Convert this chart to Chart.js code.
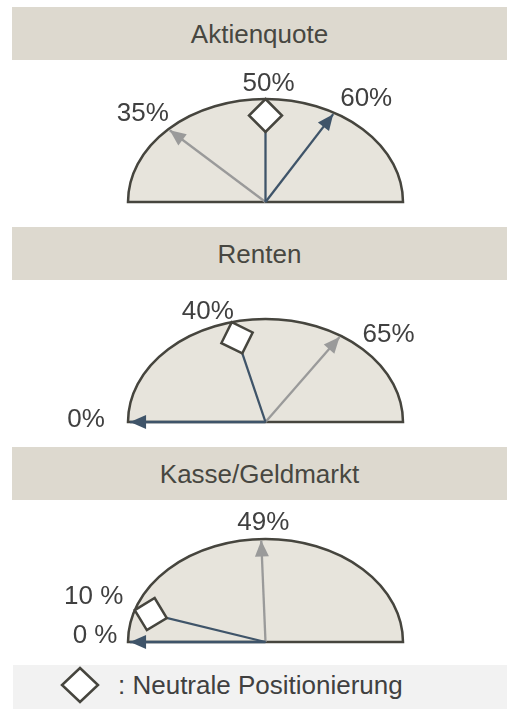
<!DOCTYPE html>
<html>
<head>
<meta charset="utf-8">
<title>Positionierung</title>
<script src="https://cdn.jsdelivr.net/npm/chart.js@4.4.1/dist/chart.umd.min.js"></script>
<style>
  body { margin: 0; padding-top: 7px; width: 507px; height: 702px; background: #fff;
         font-family: "Liberation Sans", Arial, sans-serif; overflow: hidden; position: relative; }
  .head { margin-left: 12px; height: 53px; line-height: 54px; background: #DDD9CF;
          color: #474741; font-size: 26px; text-align: center; }
  canvas { display: block; }
  #legend { position: absolute; left: 13px; right: 0; top: 665px; bottom: -7px; background: #F2F2F2;
            color: #404040; font-size: 26px; }
  #legend svg { position: absolute; left: 47px; top: 1px; }
  #legend span { position: absolute; left: 105px; top: 5px; line-height: 30px; }
</style>
</head>
<body>
<div id="panels"></div>
<div id="legend">
  <svg width="40" height="38"><polygon points="20,2 38,19 20,36 2,19" fill="#fff" stroke="#46453E" stroke-width="2.5"/></svg>
  <span id="legendText"></span>
</div>
<script>
// gauge values (percent)
const panelTitles = ['Aktienquote', 'Renten', 'Kasse/Geldmarkt'];
const gaugeMin = [20, 0, 0];
const gaugeMax = [80, 95, 100];
const neutralValues = [50, 40, 10];   // diamond
const currentValues = [60, 0, 0];     // dark arrow
const previousValues = [35, 65, 49];  // grey arrow
const neutralLabels = ['50%', '40%', '10 %'];
const currentLabels = ['60%', '0%', '0 %'];
const previousLabels = ['35%', '65%', '49%'];
const legendText = ': Neutrale Positionierung';

// where each label sits relative to the tip of its mark (px)
const labelOffsets = [
  { neutral: [3, -17], current: [33, -17], previous: [-27, -19] },
  { neutral: [-24, -12], current: [-44, -4], previous: [49, -4] },
  { neutral: [-41, -15], current: [-35, -8], previous: [2, -20] }
];

const DARK = '#3F5469';
const GREY = '#9A9A9A';
const OUTLINE = '#46453E';
const FILL = '#E7E4DC';
const TIP_R = 0.985;

// value -> point on the unit half circle (x/y scales stretch it to the ellipse)
function gaugePoint(value, i, r) {
  const frac = (value - gaugeMin[i]) / (gaugeMax[i] - gaugeMin[i]);
  const a = Math.PI * (1 - frac);
  return { x: r * Math.cos(a), y: r * Math.sin(a) };
}

const gaugePlugin = {
  id: 'gauge',
  beforeDatasetsDraw(chart) {
    const { ctx, scales: { x, y } } = chart;
    const cx = x.getPixelForValue(0), cy = y.getPixelForValue(0);
    const rx = x.getPixelForValue(1) - cx, ry = cy - y.getPixelForValue(1);
    ctx.save();
    ctx.beginPath();
    ctx.ellipse(cx, cy, rx, ry, 0, Math.PI, 2 * Math.PI);
    ctx.closePath();
    ctx.fillStyle = FILL;
    ctx.fill();
    ctx.lineWidth = 2.5;
    ctx.strokeStyle = OUTLINE;
    ctx.stroke();
    ctx.restore();
  },
  afterDatasetsDraw(chart) {
    const ctx = chart.ctx;
    ctx.save();
    chart.data.datasets.forEach((ds, di) => {
      const pts = chart.getDatasetMeta(di).data;
      const o = pts[0], t = pts[1];
      let ux = t.x - o.x, uy = t.y - o.y;
      const len = Math.hypot(ux, uy);
      ux /= len; uy /= len;
      const nx = -uy, ny = ux;
      ctx.beginPath();
      if (ds.mark === 'arrow') {
        const L = 16, W = 7;
        ctx.moveTo(t.x, t.y);
        ctx.lineTo(t.x - ux * L + nx * W, t.y - uy * L + ny * W);
        ctx.lineTo(t.x - ux * L - nx * W, t.y - uy * L - ny * W);
        ctx.closePath();
        ctx.fillStyle = ds.borderColor;
        ctx.fill();
      } else {
        const h = 16.5;
        ctx.moveTo(t.x, t.y);
        ctx.lineTo(t.x - ux * h + nx * h, t.y - uy * h + ny * h);
        ctx.lineTo(t.x - ux * 2 * h, t.y - uy * 2 * h);
        ctx.lineTo(t.x - ux * h - nx * h, t.y - uy * h - ny * h);
        ctx.closePath();
        ctx.fillStyle = '#fff';
        ctx.fill();
        ctx.lineWidth = 2.5;
        ctx.lineJoin = 'miter';
        ctx.strokeStyle = OUTLINE;
        ctx.stroke();
      }
      // value label
      ctx.font = '26px "Liberation Sans", Arial, sans-serif';
      ctx.fillStyle = '#404040';
      ctx.textAlign = 'center';
      ctx.textBaseline = 'alphabetic';
      ctx.fillText(ds.tipLabel, t.x + ds.offset[0], t.y + ds.offset[1] + 9.3);
    });
    ctx.restore();
  }
};

const lineStyle = { showLine: true, pointRadius: 0, borderWidth: 2.3, clip: false, fill: false };

const holder = document.getElementById('panels');
panelTitles.forEach((title, i) => {
  const head = document.createElement('div');
  head.className = 'head';
  head.textContent = title;
  const canvas = document.createElement('canvas');
  canvas.width = 507;
  canvas.height = 167;
  holder.appendChild(head);
  holder.appendChild(canvas);

  new Chart(canvas, {
    type: 'scatter',
    data: {
      datasets: [
        { ...lineStyle, label: 'Neutral', mark: 'diamond', tipLabel: neutralLabels[i],
          offset: labelOffsets[i].neutral, borderColor: DARK,
          data: [{ x: 0, y: 0 }, gaugePoint(neutralValues[i], i, 1)] },
        { ...lineStyle, label: 'Aktuell', mark: 'arrow', tipLabel: currentLabels[i],
          offset: labelOffsets[i].current, borderColor: DARK,
          data: [{ x: 0, y: 0 }, gaugePoint(currentValues[i], i, TIP_R)] },
        { ...lineStyle, label: 'Vorher', mark: 'arrow', tipLabel: previousLabels[i],
          offset: labelOffsets[i].previous, borderColor: GREY,
          data: [{ x: 0, y: 0 }, gaugePoint(previousValues[i], i, TIP_R)] }
      ]
    },
    options: {
      responsive: false,
      animation: false,
      events: [],
      layout: { padding: { left: 128, right: 104, top: 39, bottom: 25 } },
      scales: {
        x: { type: 'linear', min: -1, max: 1, display: false },
        y: { type: 'linear', min: 0, max: 1, display: false }
      },
      plugins: { legend: { display: false }, tooltip: { enabled: false } }
    },
    plugins: [gaugePlugin]
  });
});

document.getElementById('legendText').textContent = legendText;
</script>
</body>
</html>
